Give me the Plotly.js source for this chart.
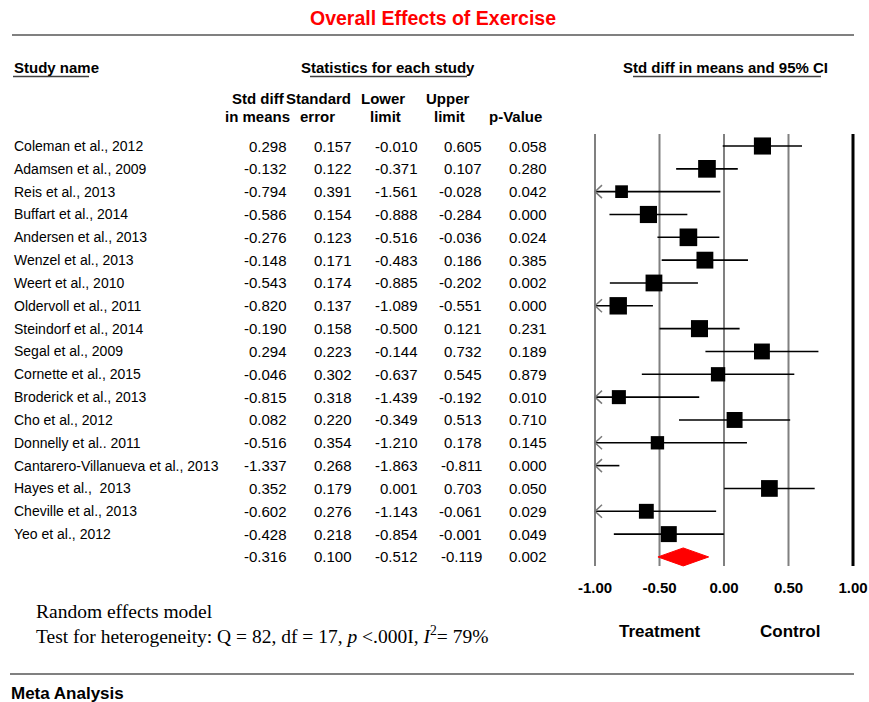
<!DOCTYPE html>
<html><head><meta charset="utf-8">
<script src="https://cdn.plot.ly/plotly-3.0.1.min.js"></script>
<style>html,body{margin:0;padding:0;background:#fff}#chart{width:869px;height:702px}</style>
</head><body><div id="chart"></div>
<script>
// ---------------- DATA ----------------
const studies = ["Coleman et al., 2012","Adamsen et al., 2009","Reis et al., 2013","Buffart et al., 2014",
  "Andersen et al., 2013","Wenzel et al., 2013","Weert et al., 2010","Oldervoll et al., 2011",
  "Steindorf et al., 2014","Segal et al., 2009","Cornette et al., 2015","Broderick et al., 2013",
  "Cho et al., 2012","Donnelly et al.. 2011","Cantarero-Villanueva et al., 2013","Hayes et al.,  2013",
  "Cheville et al., 2013","Yeo et al., 2012"];
const stdDiff    = [0.298,-0.132,-0.794,-0.586,-0.276,-0.148,-0.543,-0.820,-0.190,0.294,-0.046,-0.815,0.082,-0.516,-1.337,0.352,-0.602,-0.428];
const stdErr     = [0.157,0.122,0.391,0.154,0.123,0.171,0.174,0.137,0.158,0.223,0.302,0.318,0.220,0.354,0.268,0.179,0.276,0.218];
const lowerLimit = [-0.010,-0.371,-1.561,-0.888,-0.516,-0.483,-0.885,-1.089,-0.500,-0.144,-0.637,-1.439,-0.349,-1.210,-1.863,0.001,-1.143,-0.854];
const upperLimit = [0.605,0.107,-0.028,-0.284,-0.036,0.186,-0.202,-0.551,0.121,0.732,0.545,-0.192,0.513,0.178,-0.811,0.703,-0.061,-0.001];
const pValue     = [0.058,0.280,0.042,0.000,0.024,0.385,0.002,0.000,0.231,0.189,0.879,0.010,0.710,0.145,0.000,0.050,0.029,0.049];
// summary (random effects): std diff, SE, lower, upper, p
const summaryStats = [-0.316,0.100,-0.512,-0.119,0.002];
const tickVals = [-1,-0.5,0,0.5,1];
const tickText = ["-1.00","-0.50","0.00","0.50","1.00"];
const colHeaderTop = ["Std diff","Standard","Lower","Upper"];
const colHeaderBottom = ["in means","error","limit","limit","p-Value"];

// ---------------- LAYOUT CONSTANTS ----------------
const W = 869, H = 702;
const ROW0 = 146, ROWH = 22.83;
const rowAt = px => (px - ROW0) / ROWH;
const px2y = px => 1 - px / H;
const px2x = px => px / W;
const FONT = "Liberation Sans, Arial, sans-serif";
const SERIF = "Liberation Serif, Times New Roman, serif";
const UNIT = 129; // px per unit on effect axis
const X0PX = 724; // pixel of 0
const XR = [-1.1, 1.1];
const colRight = [288, 353, 419, 483, 548];
const hdrTopX = [258, 318, 383, 448];
const hdrBotX = [257, 317, 385, 449, 515];

const n = studies.length;
const rows = studies.map((_, i) => i);
const sumRow = n;

// random-effects weights (DerSimonian-Laird) for square sizes
const wF = stdErr.map(s => 1 / (s * s));
const sW = wF.reduce((a, b) => a + b, 0);
const sW2 = wF.reduce((a, b) => a + b * b, 0);
const yF = wF.reduce((a, w, i) => a + w * stdDiff[i], 0) / sW;
const Q = wF.reduce((a, w, i) => a + w * (stdDiff[i] - yF) ** 2, 0);
const tau2 = Math.max(0, (Q - (n - 1)) / (sW - sW2 / sW));
const wR = stdErr.map(s => 1 / (s * s + tau2));
const sizes = wR.map(w => 6.8 * Math.sqrt(w));

// CI segments clipped to [-1, 1]
const ciX = [], ciY = [];
rows.forEach(i => {
  ciX.push(Math.max(lowerLimit[i], -1), Math.min(upperLimit[i], 1), null);
  ciY.push(i, i, null);
});
// arrows for truncated CIs
const arX = [], arY = [];
const adx = 7 / UNIT, ady = 6.5 / ROWH;
rows.forEach(i => {
  if (lowerLimit[i] < -1) {
    arX.push(-1 + adx, -1, -1 + adx, null);
    arY.push(i - ady, i, i + ady, null);
  }
});
// summary diamond
const dh = 9 / ROWH;
const dX = [summaryStats[2], summaryStats[0], summaryStats[3], summaryStats[0], summaryStats[2]];
const dY = [sumRow, sumRow - dh, sumRow, sumRow + dh, sumRow];

const traces = [
  {type: "scatter", mode: "lines", x: ciX, y: ciY, line: {color: "#000", width: 1.6}, hoverinfo: "skip"},
  {type: "scatter", mode: "lines", x: arX, y: arY, line: {color: "#7a7a7a", width: 1.5}, hoverinfo: "skip"},
  {type: "scatter", mode: "markers", x: stdDiff, y: rows,
   marker: {symbol: "square", color: "#000", opacity: 1, size: sizes, line: {width: 0}}, hoverinfo: "skip"},
  {type: "scatter", mode: "lines", x: dX, y: dY, fill: "toself", fillcolor: "#ff0000",
   line: {color: "#ff0000", width: 1}, hoverinfo: "skip"}
];

// ---------------- ANNOTATIONS ----------------
const ann = [];
const txt = (text, xpx, ypx, anchor, size, opts = {}) => ann.push(Object.assign({
  text, x: px2x(xpx), xref: "paper", y: px2y(ypx), yref: "paper",
  xanchor: anchor, yanchor: "middle", showarrow: false, borderpad: 0,
  font: {family: FONT, size, color: "#000"}
}, opts));

// table rows
const cellAnn = (text, xpx, row, anchor, size) => ann.push({
  text, x: px2x(xpx), xref: "paper", y: row, yref: "y",
  xanchor: anchor, yanchor: "middle", showarrow: false, borderpad: 0,
  font: {family: FONT, size, color: "#000"}
});
rows.forEach(i => {
  cellAnn(studies[i], 13, i, "left", 14);
  [stdDiff[i], stdErr[i], lowerLimit[i], upperLimit[i], pValue[i]].forEach((v, c) =>
    cellAnn(v.toFixed(3), colRight[c], i, "right", 15));
});
summaryStats.forEach((v, c) => cellAnn(v.toFixed(3), colRight[c], sumRow, "right", 15));

// headers
txt("<b>Study name</b>", 13, 67, "left", 15);
txt("<b>Statistics for each study</b>", 388, 67, "center", 15);
txt("<b>Std diff in means and 95% CI</b>", 725, 67, "center", 15);
colHeaderTop.forEach((t, c) => txt("<b>" + t + "</b>", hdrTopX[c], 98, "center", 15));
colHeaderBottom.forEach((t, c) => txt("<b>" + t + "</b>", hdrBotX[c], 117, "center", 15));

// footer texts
txt("Random effects model", 35, 611, "left", 19.5, {font: {family: SERIF, size: 19.5, color: "#000"}});
txt("Test for heterogeneity: Q = 82, df = 17, <i>p</i> &lt;.000I, <i>I</i><sup>2</sup>= 79%", 35, 635, "left", 19.5,
    {font: {family: SERIF, size: 19.5, color: "#000"}});
txt("<b>Treatment</b>", 660, 631, "center", 17);
txt("<b>Control</b>", 790, 631, "center", 17);
txt("<b>Meta Analysis</b>", 10, 693, "left", 17);

// ---------------- SHAPES ----------------
const shapes = [];
tickVals.forEach((v, i) => shapes.push({
  type: "line", layer: "below", xref: "x", yref: "paper", x0: v, x1: v,
  y0: px2y(566), y1: px2y(134),
  line: {color: i === tickVals.length - 1 ? "#000" : "#808080", width: i === tickVals.length - 1 ? 3 : 2}
}));
const hline = (x0, x1, y, color, width) => shapes.push({
  type: "line", xref: "paper", yref: "paper", x0: px2x(x0), x1: px2x(x1), y0: px2y(y), y1: px2y(y),
  line: {color, width}
});
hline(12, 854, 35, "#808080", 2);
hline(10, 854, 674, "#808080", 2);
hline(13, 89, 76.5, "#404040", 1.5);
hline(310, 467, 76.5, "#404040", 1.5);
hline(633, 821, 76.5, "#404040", 1.5);

const xLeftPx = X0PX + XR[0] * UNIT, xRightPx = X0PX + XR[1] * UNIT;

const layout = {
  width: W, height: H,
  margin: {l: 0, r: 0, t: 0, b: 0, pad: 0},
  paper_bgcolor: "#fff", plot_bgcolor: "rgba(0,0,0,0)",
  showlegend: false,
  title: {text: "<b>Overall Effects of Exercise</b>", x: 433 / W, xanchor: "center",
          y: px2y(18), yanchor: "middle", yref: "container",
          font: {family: FONT, size: 19.5, color: "#ff0000"}},
  xaxis: {domain: [px2x(xLeftPx), px2x(xRightPx)], range: XR, fixedrange: true,
          anchor: "free", position: px2y(577),
          tickvals: tickVals, ticktext: tickText, ticks: "", showgrid: false, zeroline: false,
          showline: false, tickfont: {family: FONT, size: 15, color: "#000", weight: "bold"}},
  yaxis: {domain: [0, 1], range: [rowAt(H), rowAt(0)], showgrid: false, zeroline: false,
          showline: false, showticklabels: false, ticks: "", fixedrange: true},
  annotations: ann,
  shapes: shapes
};

Plotly.newPlot("chart", traces, layout, {staticPlot: true, displayModeBar: false});
</script>
</body></html>
